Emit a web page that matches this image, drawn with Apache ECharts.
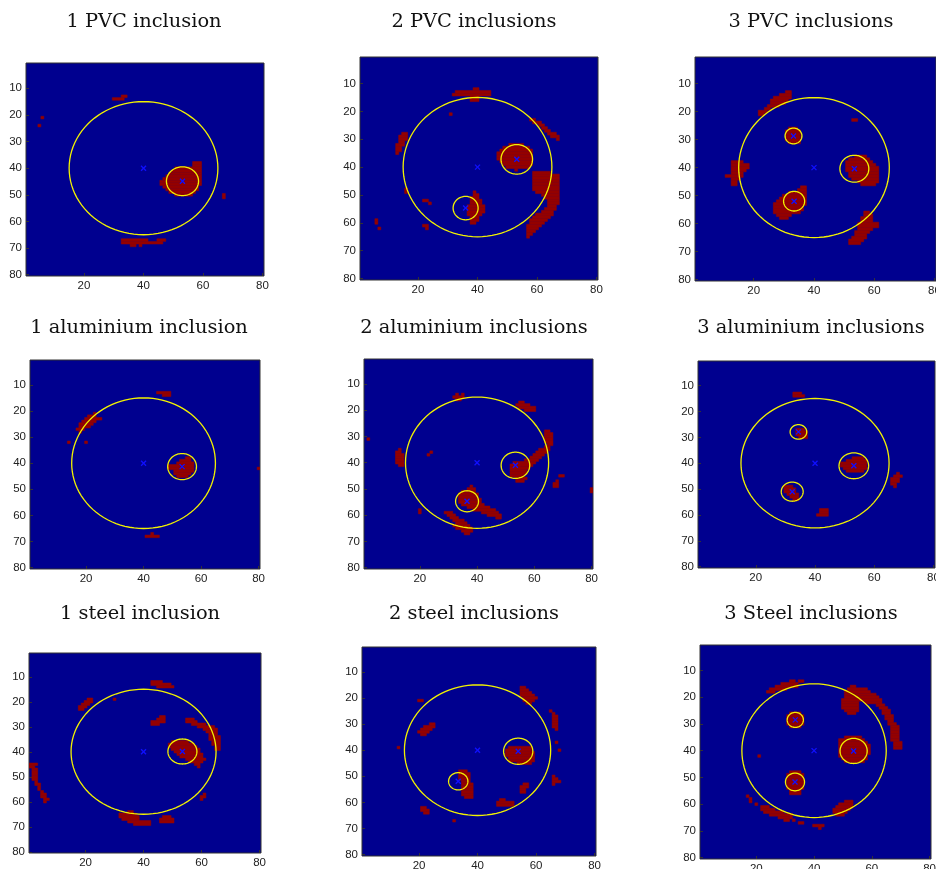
<!DOCTYPE html>
<html>
<head>
<meta charset="utf-8">
<script src="https://cdn.jsdelivr.net/npm/echarts@6/dist/echarts.min.js"></script>
<style>
  html, body { margin: 0; padding: 0; background: #fff; }
  #chart { width: 936px; height: 869px; }
</style>
</head>
<body>
<div id="chart"></div>
<script>
// tick labels shared by all nine images
const xTicks = [20, 40, 60, 80]
const yTicks = [10, 20, 30, 40, 50, 60, 70, 80]

const titles = [
  '1 PVC inclusion', '2 PVC inclusions', '3 PVC inclusions',
  '1 aluminium inclusion', '2 aluminium inclusions', '3 aluminium inclusions',
  '1 steel inclusion', '2 steel inclusions', '3 Steel inclusions'
]

// red pixels of each reconstruction, as row runs: [row, firstCol, lastCol]
const pvc1 = [
  [13, 33, 34], [14, 30, 33], [21, 6, 6], [24, 5, 5],
  [38, 57, 59], [39, 57, 59], [40, 51, 59], [41, 50, 59], [42, 49, 59], [43, 48, 59], [44, 47, 59],
  [45, 46, 59], [46, 46, 59], [47, 47, 58], [48, 48, 58], [49, 49, 57], [50, 51, 56],
  [50, 67, 67], [51, 67, 67],
  [67, 33, 41], [67, 45, 47], [68, 33, 46], [69, 36, 37], [69, 39, 39]
]
const pvc2 = [
  [12, 39, 40], [13, 33, 44], [14, 32, 44], [15, 38, 40], [16, 38, 40],
  [21, 31, 31],
  [28, 15, 16], [29, 14, 16], [30, 14, 16], [31, 14, 15], [32, 13, 15], [33, 13, 14], [34, 13, 14], [35, 13, 13],
  [48, 16, 16], [49, 16, 16], [52, 22, 23], [53, 24, 24],
  [59, 6, 6], [60, 6, 6], [62, 7, 7], [61, 22, 23], [62, 23, 23],
  [49, 39, 39], [50, 39, 40], [51, 38, 40], [52, 38, 41], [53, 38, 41], [54, 37, 42], [55, 37, 42],
  [56, 37, 42], [57, 37, 41], [58, 38, 40], [59, 38, 40], [60, 38, 39],
  [32, 51, 55], [33, 49, 57], [34, 48, 58], [35, 47, 58], [36, 47, 58], [37, 47, 58], [38, 48, 58],
  [39, 49, 58], [40, 50, 57], [41, 53, 53],
  [23, 58, 59], [24, 59, 61], [25, 61, 62], [26, 62, 63], [27, 63, 64], [28, 64, 66], [29, 65, 67], [30, 67, 67],
  [42, 59, 64], [43, 59, 67], [44, 59, 67], [45, 59, 67], [46, 59, 67], [47, 59, 67], [48, 59, 67],
  [49, 60, 67], [50, 62, 67], [51, 63, 67], [52, 64, 67], [53, 64, 67], [54, 64, 66], [55, 63, 66],
  [56, 62, 65], [57, 60, 65], [58, 59, 64], [59, 58, 63], [60, 58, 62], [61, 57, 61], [62, 57, 60],
  [63, 57, 59], [64, 57, 58], [65, 57, 57]
]
const pvc3 = [
  [13, 31, 32], [14, 29, 32], [15, 27, 32], [16, 26, 31], [17, 26, 30], [18, 25, 28], [19, 24, 25], [20, 22, 24], [21, 22, 23],
  [23, 53, 54],
  [38, 13, 16], [39, 13, 18], [40, 13, 18], [41, 13, 17], [42, 13, 16], [43, 11, 16], [44, 13, 15], [45, 13, 14], [46, 13, 14],
  [26, 32, 34], [27, 31, 35], [28, 31, 35], [29, 31, 35], [30, 31, 35], [31, 32, 35],
  [36, 54, 57], [37, 52, 58], [38, 51, 59], [39, 51, 60], [40, 51, 61], [41, 51, 61], [42, 52, 61],
  [43, 52, 61], [44, 53, 61], [45, 55, 61], [46, 56, 60],
  [47, 36, 37], [48, 35, 37], [49, 32, 37], [50, 30, 37], [51, 29, 37], [52, 28, 37], [53, 27, 37],
  [54, 27, 36], [55, 27, 36], [56, 27, 35], [57, 28, 32], [58, 29, 31],
  [56, 57, 58], [57, 57, 59], [58, 56, 59], [59, 56, 59], [60, 55, 61], [61, 55, 61], [62, 55, 59],
  [63, 54, 58], [64, 54, 57], [65, 53, 57], [66, 52, 56], [67, 52, 55]
]
const alu1 = [
  [13, 45, 49], [14, 47, 49],
  [21, 23, 23], [22, 21, 23], [23, 20, 25], [24, 19, 23], [25, 18, 22], [26, 18, 21], [27, 17, 19], [28, 18, 18],
  [32, 14, 14], [32, 20, 20],
  [38, 55, 56], [39, 53, 56], [40, 52, 57], [41, 49, 57], [42, 49, 57], [43, 51, 57], [44, 51, 56], [45, 52, 55],
  [42, 80, 80],
  [67, 43, 43], [68, 41, 45]
]
const alu2 = [
  [14, 33, 33], [14, 35, 35], [15, 32, 35], [16, 33, 34],
  [17, 55, 56], [18, 54, 58], [19, 55, 60], [20, 57, 60],
  [31, 2, 2],
  [35, 13, 13], [36, 12, 13], [37, 12, 14], [38, 12, 14], [39, 12, 14], [40, 12, 14], [41, 13, 14],
  [37, 23, 23], [36, 24, 24],
  [28, 64, 65], [29, 64, 66], [30, 64, 66], [31, 64, 66], [32, 64, 66], [33, 65, 66], [34, 64, 65],
  [35, 62, 65], [36, 61, 64], [37, 60, 63], [38, 59, 62], [39, 57, 61], [40, 53, 60], [41, 52, 59],
  [42, 52, 58], [43, 52, 57], [44, 52, 57], [45, 52, 56], [46, 54, 57], [47, 54, 56],
  [45, 69, 70], [47, 68, 68], [48, 67, 68], [49, 67, 68], [50, 80, 80], [51, 80, 80],
  [49, 38, 38], [50, 37, 39], [51, 35, 39], [52, 34, 40], [53, 34, 40], [54, 34, 41], [55, 34, 41],
  [56, 35, 42], [57, 37, 44], [58, 39, 46], [59, 42, 47], [60, 44, 48], [61, 47, 48],
  [59, 29, 31], [60, 30, 32], [61, 31, 33], [62, 32, 35], [63, 33, 36], [64, 32, 37], [65, 33, 38],
  [66, 35, 38], [67, 36, 37],
  [58, 20, 20], [59, 20, 20]
]
const alu3 = [
  [13, 33, 35], [14, 33, 36],
  [27, 34, 36], [28, 34, 37], [29, 34, 37], [30, 35, 37],
  [38, 53, 56], [39, 51, 57], [40, 49, 57], [41, 49, 57], [42, 50, 57], [43, 51, 56],
  [49, 30, 32], [50, 30, 33], [51, 30, 33], [52, 31, 34], [53, 32, 34], [54, 33, 34],
  [58, 42, 44], [59, 42, 44], [60, 41, 44],
  [44, 68, 68], [45, 67, 69], [46, 66, 68], [47, 66, 68], [48, 66, 67], [49, 67, 67]
]
const steel1 = [
  [12, 43, 46], [13, 43, 49], [14, 45, 50],
  [19, 21, 22], [20, 20, 22], [21, 19, 21], [22, 18, 20], [23, 18, 19],
  [19, 30, 30],
  [26, 46, 47], [27, 45, 47], [28, 43, 47], [29, 43, 45],
  [27, 55, 57], [28, 55, 58], [29, 57, 61], [30, 59, 64], [31, 61, 65], [32, 62, 65], [33, 63, 65],
  [34, 63, 66], [35, 63, 66], [36, 64, 66], [37, 64, 66], [38, 65, 66], [39, 65, 66],
  [36, 50, 55], [37, 49, 57], [38, 49, 58], [39, 50, 59], [40, 51, 59], [41, 52, 60], [42, 53, 60],
  [43, 55, 61], [44, 56, 60], [45, 58, 59], [46, 59, 59],
  [45, 1, 3], [46, 1, 2], [47, 2, 3], [48, 2, 3], [49, 2, 3], [50, 2, 3], [51, 2, 3], [52, 3, 3],
  [53, 3, 4], [54, 4, 4], [55, 4, 4], [56, 5, 5], [57, 5, 6], [58, 5, 6], [59, 6, 7], [60, 6, 6],
  [57, 61, 61], [58, 60, 61], [59, 60, 60],
  [64, 35, 36], [65, 32, 37], [66, 32, 38], [67, 33, 38], [68, 35, 42], [69, 37, 42],
  [66, 47, 49], [67, 46, 50], [68, 46, 50]
]
const steel2 = [
  [16, 55, 56], [17, 55, 57], [18, 55, 58], [19, 55, 59], [20, 56, 60], [21, 56, 59], [22, 57, 58],
  [21, 20, 21],
  [30, 24, 25], [31, 22, 25], [32, 21, 24], [33, 20, 23], [34, 21, 22],
  [25, 65, 65], [26, 66, 66], [27, 66, 67], [28, 66, 67], [29, 66, 67], [30, 66, 67], [31, 66, 67], [32, 67, 67],
  [37, 67, 67], [40, 68, 68], [39, 13, 13],
  [39, 51, 58], [40, 50, 58], [41, 50, 59], [42, 50, 59], [43, 51, 59], [44, 51, 59], [45, 54, 58],
  [50, 66, 66], [51, 66, 67], [52, 66, 68], [53, 66, 66],
  [48, 34, 36], [49, 34, 37], [50, 34, 37], [51, 34, 37], [52, 35, 37], [53, 35, 38], [54, 35, 38],
  [55, 35, 38], [56, 35, 38], [57, 35, 38], [58, 36, 38],
  [53, 56, 57], [54, 55, 57], [55, 55, 56], [56, 55, 56],
  [59, 48, 49], [60, 47, 52], [61, 47, 52],
  [62, 21, 22], [63, 21, 23], [64, 22, 23],
  [67, 32, 32]
]
const steel3 = [
  [14, 32, 33], [15, 29, 34], [16, 27, 34], [17, 25, 30], [18, 24, 26], [14, 35, 36],
  [16, 53, 54], [17, 52, 58], [18, 51, 59], [19, 51, 61], [20, 51, 62], [21, 50, 63],
  [22, 50, 55], [22, 58, 63], [23, 50, 55], [23, 62, 64], [24, 50, 55], [24, 63, 65],
  [25, 51, 55], [25, 64, 66], [26, 52, 54], [26, 64, 66], [27, 65, 67], [28, 65, 67], [29, 66, 67],
  [30, 66, 68], [31, 67, 69], [32, 67, 69], [33, 67, 69], [34, 67, 69], [35, 67, 69], [36, 67, 69],
  [37, 68, 70], [38, 68, 70], [39, 68, 70],
  [26, 32, 35], [27, 31, 36], [28, 31, 36], [29, 31, 36], [30, 31, 36], [31, 32, 35],
  [35, 51, 56], [36, 49, 57], [37, 49, 58], [38, 49, 59], [39, 49, 59], [40, 49, 59], [41, 49, 59],
  [42, 49, 58], [43, 50, 58], [44, 51, 57],
  [42, 21, 21],
  [48, 32, 35], [49, 31, 36], [50, 31, 36], [51, 31, 36], [52, 31, 36], [53, 31, 36], [54, 31, 36], [55, 32, 35], [56, 32, 35],
  [57, 17, 17], [58, 18, 18], [59, 18, 18], [60, 20, 20],
  [61, 22, 24], [62, 22, 26], [63, 23, 29], [64, 25, 32], [65, 28, 32], [66, 30, 31], [66, 33, 33],
  [67, 35, 36], [68, 40, 43], [69, 42, 42],
  [59, 51, 53], [60, 49, 53], [61, 48, 53], [62, 47, 52], [63, 47, 51], [64, 48, 50]
]

// circles: [centreX, centreY, radius]; first one is the vessel outline
const pvc1Circles = [[40, 40, 25], [53.1, 44.9, 5.4]]
const pvc2Circles = [[40, 40, 25], [53.2, 37.2, 5.3], [36, 54.7, 4.2]]
const pvc3Circles = [[40, 40, 25], [33.2, 28.7, 2.8], [53.4, 40.4, 4.8], [33.4, 52, 3.5]]
const alu1Circles = [[40, 40, 25], [53.4, 41.3, 5]]
const alu2Circles = [[40, 40, 25], [53.4, 41, 5], [36.5, 54.7, 4]]
const alu3Circles = [[40, 40, 25], [34.4, 27.9, 2.8], [53.1, 41, 5], [32.3, 51, 3.7]]
const steel1Circles = [[40, 40, 25], [53.4, 39.9, 5]]
const steel2Circles = [[40, 40, 25], [53.9, 40.4, 5], [33.4, 51.9, 3.3]]
const steel3Circles = [[40, 40, 25], [33.5, 28.5, 2.8], [53.7, 40.1, 4.7], [33.4, 51.7, 3.3]]

const BLUE = '#00008f'
const RED = '#940000'

// panel boxes [left, top, width, height] and title centres
const panels = [
  { cells: pvc1, circles: pvc1Circles, box: [26, 63, 238, 213], titleAt: [144, 22] },
  { cells: pvc2, circles: pvc2Circles, box: [360, 57, 238, 223], titleAt: [474, 22] },
  { cells: pvc3, circles: pvc3Circles, box: [695, 57, 241, 224], titleAt: [811, 22] },
  { cells: alu1, circles: alu1Circles, box: [30, 360, 230, 209], titleAt: [139, 328] },
  { cells: alu2, circles: alu2Circles, box: [364, 359, 229, 210], titleAt: [474, 328] },
  { cells: alu3, circles: alu3Circles, box: [698, 361, 237, 207], titleAt: [811, 328] },
  { cells: steel1, circles: steel1Circles, box: [29, 653, 232, 200], titleAt: [140, 614] },
  { cells: steel2, circles: steel2Circles, box: [362, 647, 234, 209], titleAt: [474, 614] },
  { cells: steel3, circles: steel3Circles, box: [700, 645, 231, 214], titleAt: [811, 614] }
]

const renderCell = (params, api) => {
  const row = api.value(0)
  const p0 = api.coord([api.value(1) - 0.5, row - 0.5])
  const p1 = api.coord([api.value(2) + 0.5, row + 0.5])
  return {
    type: 'rect',
    shape: {
      x: Math.min(p0[0], p1[0]),
      y: Math.min(p0[1], p1[1]),
      width: Math.abs(p1[0] - p0[0]),
      height: Math.abs(p1[1] - p0[1])
    },
    style: { fill: RED, stroke: RED, lineWidth: 0.5 }
  }
}

const renderCircle = (params, api) => {
  const cx = api.value(0)
  const cy = api.value(1)
  const r = api.value(2)
  const points = []
  for (let k = 0; k < 96; k++) {
    const t = k / 96 * Math.PI * 2
    points.push(api.coord([cx + r * Math.cos(t), cy + r * Math.sin(t)]))
  }
  const c = api.coord([cx, cy])
  return {
    type: 'group',
    children: [
      { type: 'polygon', shape: { points }, style: { fill: 'none', stroke: '#f2f200', lineWidth: 1.3 } },
      { type: 'line', shape: { x1: c[0] - 2.5, y1: c[1] - 2.5, x2: c[0] + 2.5, y2: c[1] + 2.5 }, style: { stroke: '#1010ff', lineWidth: 1.3 } },
      { type: 'line', shape: { x1: c[0] - 2.5, y1: c[1] + 2.5, x2: c[0] + 2.5, y2: c[1] - 2.5 }, style: { stroke: '#1010ff', lineWidth: 1.3 } }
    ]
  }
}

const axisLabel = { fontSize: 11.5, color: '#222', fontFamily: 'Liberation Sans', margin: 4 }
const axisTick = { show: true, inside: true, length: 3, lineStyle: { color: '#333' } }

const grid = []
const xAxis = []
const yAxis = []
const series = []
const graphic = []

panels.forEach((p, i) => {
  grid.push({
    left: p.box[0], top: p.box[1], width: p.box[2], height: p.box[3],
    outerBoundsMode: 'none', containLabel: false,
    show: true, backgroundColor: BLUE, borderColor: '#333', borderWidth: 1
  })
  xAxis.push({
    gridIndex: i, type: 'value', min: 0.5, max: 80.5,
    splitLine: { show: false }, axisLine: { show: false },
    axisTick: { ...axisTick, customValues: xTicks },
    axisLabel: { ...axisLabel, customValues: xTicks }
  })
  yAxis.push({
    gridIndex: i, type: 'value', min: 0.5, max: 80.5, inverse: true,
    splitLine: { show: false }, axisLine: { show: false },
    axisTick: { ...axisTick, customValues: yTicks },
    axisLabel: { ...axisLabel, customValues: yTicks }
  })
  series.push({
    type: 'custom', xAxisIndex: i, yAxisIndex: i, data: p.cells,
    encode: { x: [1, 2], y: 0 }, renderItem: renderCell, clip: true, silent: true
  })
  series.push({
    type: 'custom', xAxisIndex: i, yAxisIndex: i, data: p.circles,
    encode: { x: 0, y: 1 }, renderItem: renderCircle, clip: true, silent: true
  })
  graphic.push({
    type: 'text', x: p.titleAt[0], y: p.titleAt[1],
    style: {
      text: titles[i], fill: '#111', fontSize: 19.4, fontFamily: 'DejaVu Serif',
      align: 'center', verticalAlign: 'middle', textAlign: 'center', textVerticalAlign: 'middle'
    }
  })
})

const chart = echarts.init(document.getElementById('chart'))
chart.setOption({
  animation: false,
  grid,
  xAxis,
  yAxis,
  series,
  graphic
})
</script>
</body>
</html>
